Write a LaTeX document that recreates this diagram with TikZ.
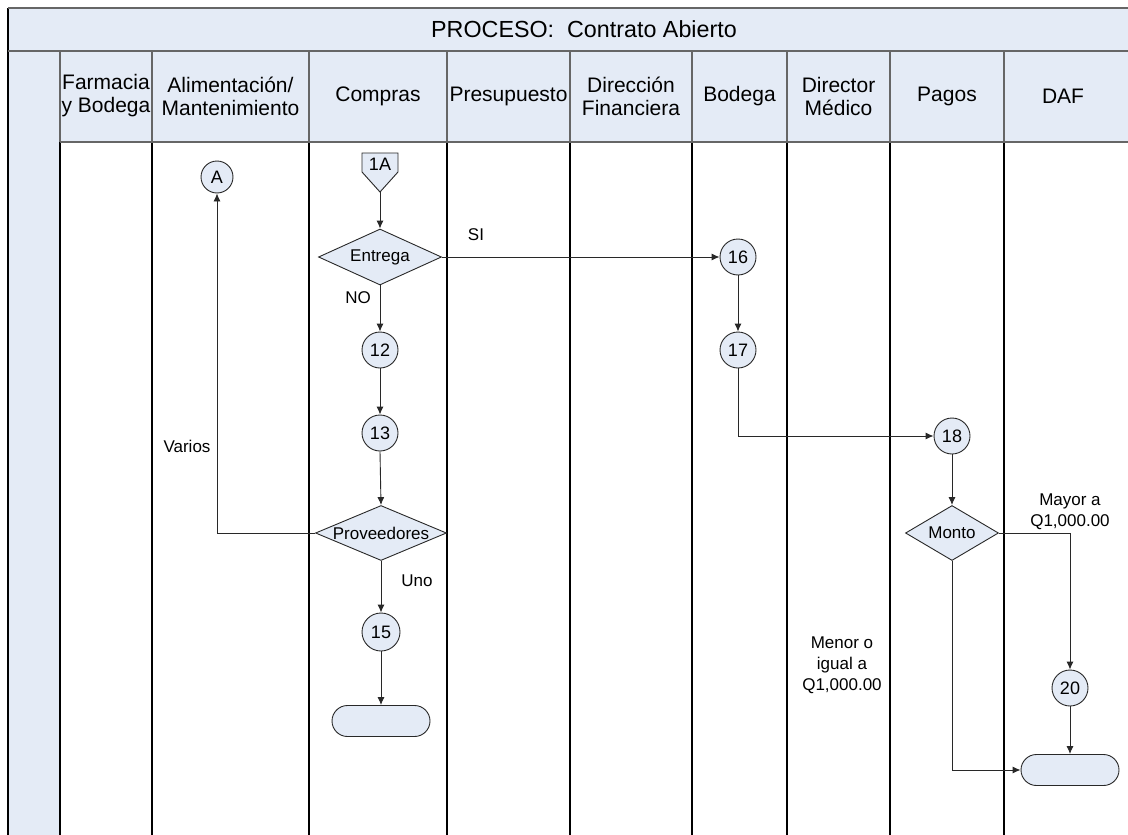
\documentclass[tikz,border=0pt]{standalone}
\usepackage{fontspec}
\setmainfont{Liberation Sans}
\usetikzlibrary{arrows.meta,shapes.geometric}
\definecolor{lanefill}{RGB}{228,235,246}
\definecolor{rule}{RGB}{40,40,40}

\begin{document}
\begin{tikzpicture}[x=1pt,y=-1pt,
  hdr/.style={align=center,font=\fontsize{21}{23}\selectfont},
  lbl/.style={align=center,font=\fontsize{17}{21}\selectfont},
  conn/.style={circle,draw=rule,line width=0.9pt,fill=lanefill,minimum size=36pt,inner sep=0pt,font=\fontsize{18}{20}\selectfont},
  decision/.style={diamond,draw=rule,line width=0.9pt,fill=lanefill,inner sep=0pt,font=\fontsize{17}{20}\selectfont},
  terminal/.style={rectangle,rounded corners=15.5pt,draw=rule,line width=0.9pt,fill=lanefill,minimum width=98pt,minimum height=31pt,inner sep=0pt},
  flow/.style={draw=rule,line width=0.9pt,-{Latex[length=8pt,width=7pt]}},
  laneline/.style={draw=black,line width=1.4pt},
  hdrline/.style={draw=black!60,line width=1.1pt}]
\useasboundingbox (0,0) rectangle (1128,835);
\clip (0,0) rectangle (1128,835);

% ---- pool background ----
\fill[lanefill] (8,8) rectangle (1140,51);
\fill[lanefill] (60,51) rectangle (1140,142);
\fill[lanefill] (8,51) rectangle (60,845);

% ---- lane separators ----
\foreach \x in {60,152,309,447,570,692,787,890,1004}{
  \draw[hdrline] (\x,51) -- (\x,142);
  \draw[laneline] (\x,142) -- (\x,845);
}
\draw[laneline] (8,8) -- (8,845);
\draw[hdrline] (8,8) -- (1140,8);
\draw[hdrline] (8,51) -- (1140,51);
\draw[hdrline] (60,142) -- (1140,142);

% ---- title and lane headers ----
\node[font=\fontsize{23.3}{26}\selectfont] (title) at (584,29) {PROCESO:\ \ Contrato Abierto};
\node[hdr] (h1) at (106,96) {Farmacia\\y Bodega};
\node[hdr] (h2) at (230.5,96) {Alimentación/\\Mantenimiento};
\node[hdr] (h3) at (378,96) {Compras};
\node[hdr] (h4) at (508.5,96) {Presupuesto};
\node[hdr] (h5) at (631,96) {Dirección\\Financiera};
\node[hdr] (h6) at (739.5,96) {Bodega};
\node[hdr] (h7) at (838.5,96) {Director\\Médico};
\node[hdr] (h8) at (947,96) {Pagos};
\node[hdr] (h9) at (1063,96) {DAF};

% ---- Compras lane ----
\draw[draw=rule,line width=0.9pt,fill=lanefill]
  (362,153) -- (398,153) -- (398,172) -- (380,192) -- (362,172) -- cycle;
\node[font=\fontsize{18}{20}\selectfont] (n1A) at (380,164) {1A};
\coordinate (n1Atip) at (380,192);

\node[decision,minimum width=123pt,minimum height=56pt] (entrega) at (380,257) {\makebox[0pt]{Entrega}};
\node[conn] (n12) at (380,350) {12};
\node[conn] (n13) at (380,433) {13};
\node[decision,minimum width=131pt,minimum height=55pt] (prov) at (381,533) {\makebox[0pt]{Proveedores}};
\node[conn,minimum size=38pt] (n15) at (381,632) {15};
\node[terminal] (t1) at (381,721) {};

\node[conn,minimum size=32pt] (nA) at (217,177) {A};

% ---- Bodega / Pagos / DAF lanes ----
\node[conn] (n16) at (738,257) {16};
\node[conn] (n17) at (738,350) {17};
\node[conn] (n18) at (952,436) {18};
\node[decision,minimum width=93pt,minimum height=55pt] (monto) at (952,533) {\makebox[0pt]{Monto}};
\node[conn] (n20) at (1070,688) {20};
\node[terminal] (t2) at (1070,770) {};

% ---- connectors ----
\draw[flow] (n1Atip) -- (entrega.north);
\draw[flow] (entrega.south) -- (n12.north);
\draw[flow] (n12.south) -- (n13.north);
\draw[flow] (n13.south) -- (prov.north);
\draw[flow] (prov.south) -- (n15.north);
\draw[flow] (n15.south) -- (t1.north);
\draw[flow] (prov.west) -| (nA.south);
\draw[flow] (entrega.east) -- (n16.west);
\draw[flow] (n16.south) -- (n17.north);
\draw[flow] (n17.south) |- (n18.west);
\draw[flow] (n18.south) -- (monto.north);
\draw[flow] (monto.east) -| (n20.north);
\draw[flow] (n20.south) -- (t2.north);
\draw[flow] (monto.south) |- (t2.west);

% ---- branch labels ----
\node[lbl] (lSI) at (476,235) {SI};
\node[lbl] (lNO) at (358,298) {NO};
\node[lbl] (lVarios) at (187,446) {Varios};
\node[lbl] (lUno) at (417,581) {Uno};
\node[lbl] (lMayor) at (1070,512) {Mayor a\\Q1,000.00};
\node[lbl] (lMenor) at (842,665) {Menor o\\igual a\\Q1,000.00};
\end{tikzpicture}
\end{document}
